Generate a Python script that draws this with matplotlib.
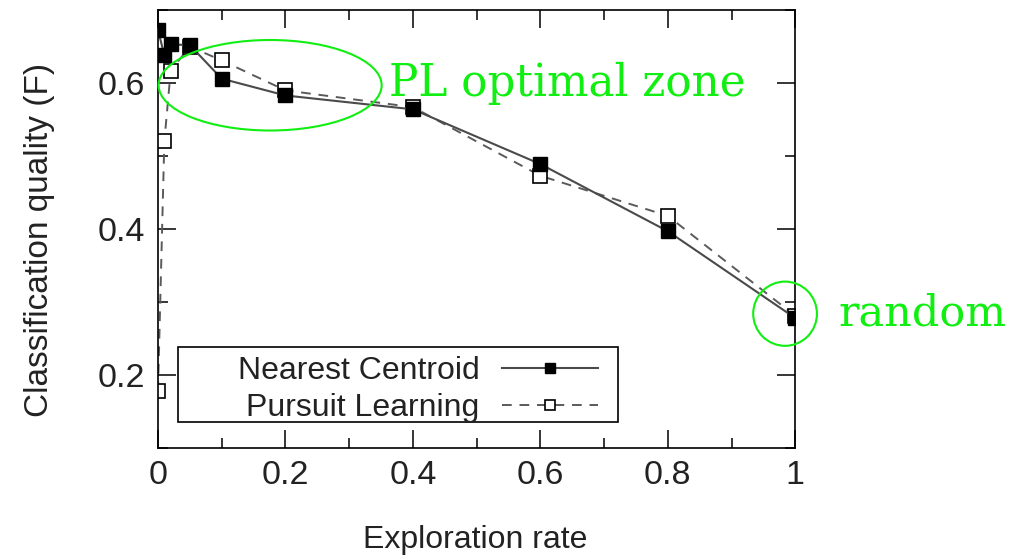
import matplotlib.pyplot as plt
from matplotlib.patches import Ellipse, Rectangle
from matplotlib.ticker import MultipleLocator

# exploration rate vs classification quality (F)
nc_x = [0.0, 0.01, 0.02, 0.05, 0.1, 0.2, 0.4, 0.6, 0.8, 1.0]
nc_f = [0.673, 0.638, 0.653, 0.652, 0.606, 0.583, 0.564, 0.489, 0.397, 0.278]

pl_x = [0.0, 0.01, 0.02, 0.05, 0.1, 0.2, 0.4, 0.6, 0.8, 1.0]
pl_f = [0.178, 0.520, 0.617, 0.650, 0.631, 0.590, 0.567, 0.473, 0.418, 0.281]

GREEN = "#11ee11"
TXT = "#222222"

plt.rcParams['font.family'] = ['Liberation Sans', 'DejaVu Sans']

fig = plt.figure(figsize=(10.1, 5.6), dpi=100)
ax = fig.add_axes([0.1564, 0.2, 0.631, 0.782])

ax.plot(nc_x, nc_f, color="#4a4a4a", lw=1.5, ls="-",
        marker="s", ms=9.5, mfc="black", mec="black", label="Nearest Centroid", zorder=3)
ax.plot(pl_x, pl_f, color="#5a5a5a", lw=1.4, ls=(0, (5, 4)),
        marker="s", ms=9.5, mfc="white", mec="black", mew=1.2,
        label="Pursuit Learning", zorder=2)

ax.set_xlim(0, 1)
ax.set_ylim(0.1, 0.7)
ax.xaxis.set_major_locator(MultipleLocator(0.2))
ax.xaxis.set_minor_locator(MultipleLocator(0.1))
ax.yaxis.set_major_locator(MultipleLocator(0.2))
ax.yaxis.set_minor_locator(MultipleLocator(0.1))
ax.xaxis.set_major_formatter(lambda v, p: "%g" % round(v, 2))
ax.yaxis.set_major_formatter(lambda v, p: "%g" % round(v, 2))

ax.tick_params(which="both", direction="in", top=True, right=True,
               width=1.1, colors="black", labelcolor=TXT, labelsize=24.5)
ax.tick_params(which="major", length=13, pad=9)
ax.tick_params(which="minor", length=7)
for s in ax.spines.values():
    s.set_linewidth(1.2)

ax.set_xlabel("Exploration rate", fontsize=23, color=TXT)
ax.xaxis.set_label_coords(0.497, -0.175)
ax.set_ylabel("Classification quality (F)", fontsize=24, color=TXT)
ax.yaxis.set_label_coords(-0.162, 0.475)

# legend box drawn separately so it can be wider than its contents
ax.add_patch(Rectangle((0.031, 0.059), 0.691, 0.172, transform=ax.transAxes,
                       fill=True, fc="white", ec="black", lw=1.2, zorder=5))
leg = ax.legend(loc="center right", bbox_to_anchor=(0.69, 0.134), markerfirst=False,
                fontsize=23, frameon=False, handlelength=3.0, markerscale=0.75,
                borderpad=0, labelspacing=0.22, handletextpad=0.7, borderaxespad=0)
leg.set_zorder(6)
for t in leg.get_texts():
    t.set_color(TXT)

# highlighted regions
ax.add_patch(Ellipse((0.176, 0.597), 0.35, 0.124, fill=False, ec=GREEN,
                     lw=1.5, clip_on=False, zorder=4))
ax.add_patch(Ellipse((0.984, 0.284), 0.1, 0.088, fill=False, ec=GREEN,
                     lw=1.5, clip_on=False, zorder=4))
ax.text(0.363, 0.599, "PL optimal zone", color=GREEN, fontsize=31.5,
        family="DejaVu Serif", va="center", ha="left", clip_on=False)
ax.text(1.067, 0.284, "random", color=GREEN, fontsize=31,
        family="DejaVu Serif", va="center", ha="left", clip_on=False)

fig.savefig("out.png", dpi=100)
